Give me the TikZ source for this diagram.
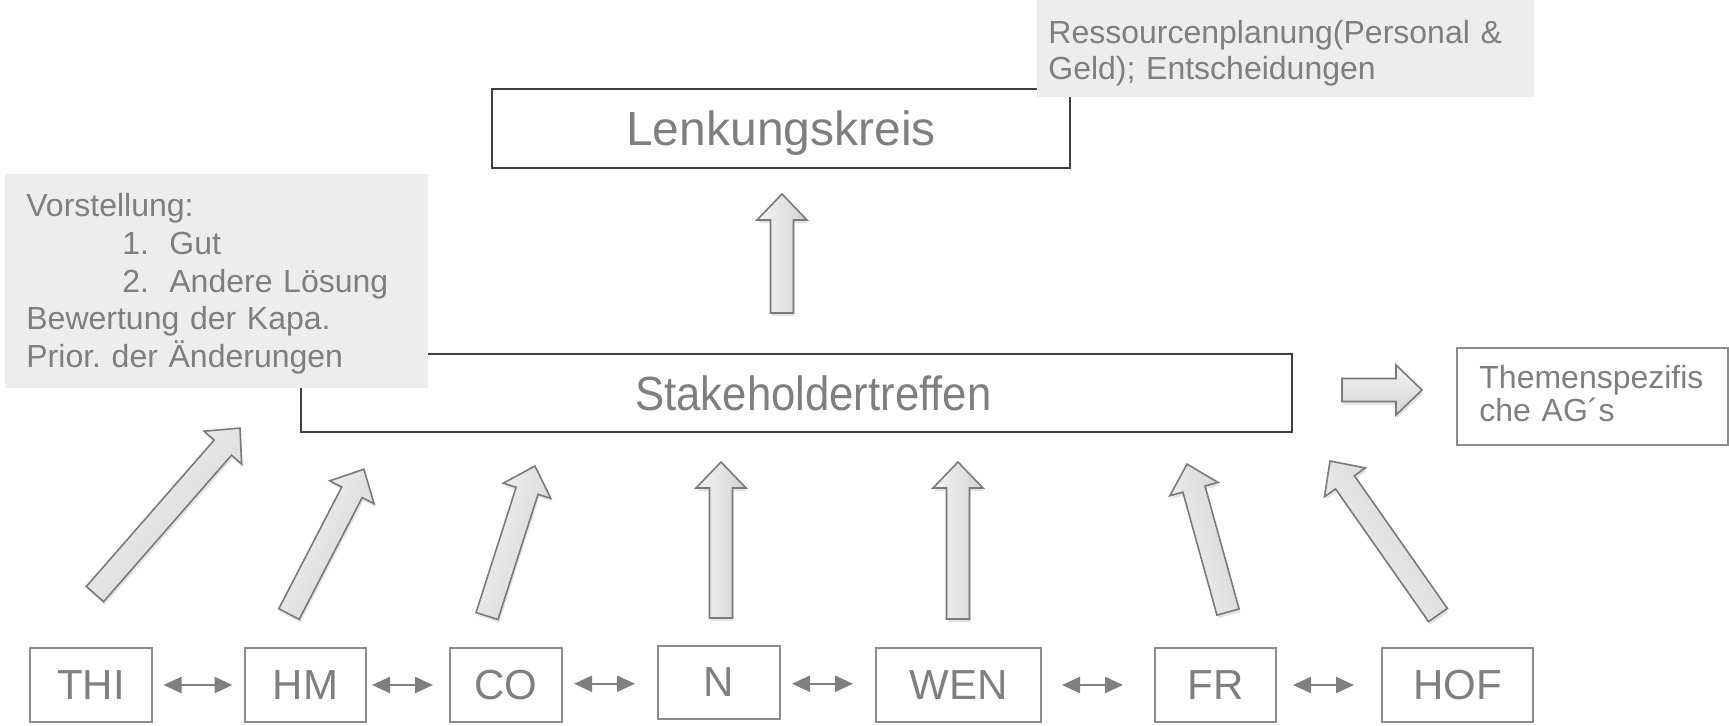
\documentclass[tikz,border=0pt]{standalone}
\usepackage{fontspec}
\usepackage{graphicx}
\setmainfont{Liberation Sans}
\frenchspacing
\usetikzlibrary{calc,arrows.meta,shadows}
\definecolor{txtgray}{HTML}{7F7F7F}
\definecolor{notefill}{HTML}{EDEDED}
\definecolor{darkline}{HTML}{404040}
\definecolor{boxline}{HTML}{8C8C8C}
\definecolor{arrowedge}{HTML}{7A7A7A}
\definecolor{arrowlight}{HTML}{F4F4F4}
\definecolor{arrowdark}{HTML}{D2D2D2}
\definecolor{dblgray}{HTML}{7F7F7F}
\newcommand{\blkarrow}[2]{%
  \pgfpointdiff{\pgfpointanchor{#1}{center}}{\pgfpointanchor{#2}{center}}%
  \pgfgetlastxy{\blkdx}{\blkdy}%
  \pgfmathsetmacro{\blkang}{atan2(\blkdy,\blkdx)}%
  \pgfmathsetmacro{\blklen}{veclen(\blkdx,\blkdy)}%
  \pgfmathsetmacro{\blkbase}{\blklen-13}%
  \draw[blockarrow, shading angle=\blkang, shift={(#1)}, rotate=\blkang]
    (0pt,-5.75pt) -- (\blkbase pt,-5.75pt) -- (\blkbase pt,-12.5pt) -- (\blklen pt,0pt)
    -- (\blkbase pt,12.5pt) -- (\blkbase pt,5.75pt) -- (0pt,5.75pt) -- cycle;}
\newcommand{\dblarrow}[4]{%
  \draw[dbl] ($($(#1.east)!.5!(#2.west)$)+(#3,0)$) -- ($($(#1.east)!.5!(#2.west)$)+(#4,0)$);}
\begin{document}
\begin{tikzpicture}[x=0.5pt,y=-0.5pt,
  bigbox/.style={draw=darkline, line width=1pt, fill=white, inner sep=0pt, text=txtgray,
    font=\fontsize{24}{28}\selectfont},
  smallbox/.style={draw=boxline, line width=1pt, fill=white, inner sep=0pt, text=txtgray,
    font=\fontsize{21}{25}\selectfont, minimum height=37pt},
  notebox/.style={fill=notefill, inner sep=0pt, anchor=north west},
  notetext/.style={text=txtgray, align=left, inner sep=0pt, anchor=base west},
  dbl/.style={{Triangle[length=9pt,width=8pt]}-{Triangle[length=9pt,width=8pt]},
    line width=1.2pt, draw=dblgray},
  blockarrow/.style={draw=arrowedge, line width=0.8pt, left color=arrowlight, right color=arrowdark,
    drop shadow={opacity=0.22, shadow xshift=0.6pt, shadow yshift=-1.6pt}}]
\useasboundingbox (0,0) rectangle (1729,725);

% main boxes
\node[bigbox, minimum width=289pt, minimum height=39.5pt] (lenk) at (781,128.5)
  {\raisebox{-8.5pt}[0pt][0pt]{Lenkungskreis}};
\node[bigbox, minimum width=495.5pt, minimum height=39pt] (stake) at (796.5,393)
  {\hspace*{17pt}\scalebox{0.91}[1]{Stakeholdertreffen}};
\node[draw=boxline, line width=1pt, fill=white, inner sep=0pt,
  minimum width=135.5pt, minimum height=48.5pt] (agbox) at (1592,396.5) {};
\node[notetext, text width=120pt, font=\fontsize{16}{16.5}\selectfont] (ag) at (1479,388)
  {Themenspezifis\\che AG´s};

% notes
\node[notebox, minimum width=248.5pt, minimum height=48.5pt] (resbox) at (1037,0) {};
\node[notetext, text width=237pt, font=\fontsize{16}{18.2}\selectfont] (res) at (1048,43.5)
  {Ressourcenplanung(Personal \&\\Geld); Entscheidungen};
\node[notebox, minimum width=211.5pt, minimum height=107pt] (vorbox) at (5,174) {};
\node[notetext, text width=195pt, font=\fontsize{16}{18.9}\selectfont] (vor) at (26,216.5)
  {Vorstellung:\\
   \hspace*{48pt}\makebox[23.5pt][l]{1.}Gut\\
   \hspace*{48pt}\makebox[23.5pt][l]{2.}Andere Lösung\\
   Bewertung der Kapa.\\
   Prior. der Änderungen};

% bottom boxes
\node[smallbox, minimum width=61pt] (THI) at (91,685) {THI};
\node[smallbox, minimum width=60.5pt] (HM) at (305.5,685) {HM};
\node[smallbox, minimum width=56pt] (CO) at (506,685) {CO};
\node[smallbox, minimum width=61pt, minimum height=36.5pt] (N) at (719,682.5) {N};
\node[smallbox, minimum width=82.5pt] (WEN) at (958.5,685) {WEN};
\node[smallbox, minimum width=60.5pt] (FR) at (1215.5,685) {FR};
\node[smallbox, minimum width=75.5pt] (HOF) at (1457.5,685) {HOF};

% double arrows
\dblarrow{THI}{HM}{-35}{34}
\dblarrow{HM}{CO}{-36}{25}
\dblarrow{CO}{N}{-36}{25}
\dblarrow{N}{WEN}{-36}{25}
\dblarrow{WEN}{FR}{-36}{25}
\dblarrow{FR}{HOF}{-36}{25}

% block arrow end points
\coordinate (u1) at (782,313);  \coordinate (u2) at (782,194);
\coordinate (r1) at (1342,390); \coordinate (r2) at (1422,390);
\coordinate (a1) at (95,594);   \coordinate (b1) at (240,428);
\coordinate (a2) at (289,614);  \coordinate (b2) at (364,469);
\coordinate (a3) at (487,616);  \coordinate (b3) at (535,466);
\coordinate (a4) at (721,618);  \coordinate (b4) at (721,462);
\coordinate (a5) at (958,619);  \coordinate (b5) at (958,462);
\coordinate (a6) at (1228,612); \coordinate (b6) at (1187,464);
\coordinate (a7) at (1438,615); \coordinate (b7) at (1330,461);

\blkarrow{u1}{u2}
\blkarrow{r1}{r2}
\blkarrow{a1}{b1}
\blkarrow{a2}{b2}
\blkarrow{a3}{b3}
\blkarrow{a4}{b4}
\blkarrow{a5}{b5}
\blkarrow{a6}{b6}
\blkarrow{a7}{b7}
\end{tikzpicture}
\end{document}
